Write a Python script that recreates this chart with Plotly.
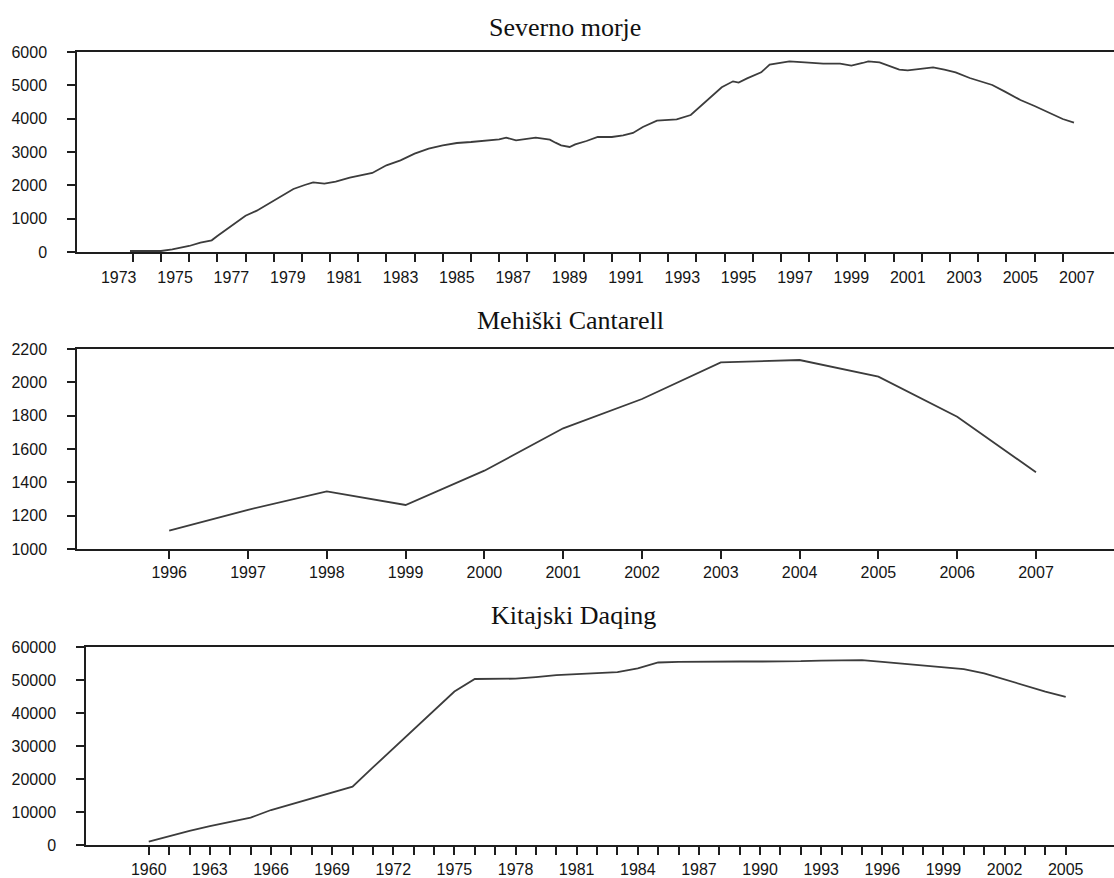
import plotly.graph_objects as go

# ---------------- data ----------------
# North Sea (Severno morje) – x in decimal years (tick marks sit on year boundaries)
ns_x = [1973.9, 1975.0, 1975.4, 1976.0, 1976.4, 1976.8, 1977.0, 1977.4, 1977.8, 1978.0,
        1978.4, 1978.9, 1979.3, 1979.7, 1980.1, 1980.4, 1980.8, 1981.2, 1981.7, 1982.1,
        1982.5, 1983.0, 1983.5, 1984.0, 1984.5, 1985.0, 1985.5, 1986.0, 1986.5, 1987.0,
        1987.25, 1987.6, 1988.3, 1988.8, 1989.0, 1989.2, 1989.5, 1989.7, 1990.1, 1990.5,
        1991.0, 1991.4, 1991.75, 1992.1, 1992.6, 1993.3, 1993.8, 1994.2, 1994.5, 1994.9,
        1995.3, 1995.5, 1995.8, 1996.3, 1996.6, 1997.0, 1997.3, 1997.85, 1998.5, 1999.1,
        1999.5, 1999.9, 2000.1, 2000.5, 2000.9, 2001.2, 2001.5, 2001.9, 2002.4, 2002.8,
        2003.2, 2003.7, 2004.2, 2004.5, 2004.95, 2005.5, 2006.0, 2006.5, 2007.0, 2007.4]
ns_y = [30, 30, 80, 180, 280, 350, 480, 735, 990, 1090,
        1240, 1490, 1690, 1890, 2010, 2090, 2050, 2110, 2230, 2300,
        2370, 2600, 2750, 2950, 3100, 3200, 3270, 3300, 3350, 3380,
        3430, 3350, 3430, 3370, 3280, 3200, 3150, 3230, 3330, 3450,
        3450, 3500, 3570, 3750, 3940, 3980, 4110, 4410, 4660, 4940,
        5120, 5080, 5210, 5390, 5620, 5670, 5720, 5690, 5650, 5650,
        5590, 5670, 5720, 5690, 5570, 5470, 5450, 5500, 5540, 5470,
        5390, 5220, 5080, 5010, 4810, 4560, 4380, 4180, 3990, 3880]
ns_labels = list(range(1973, 2008, 2))
ns_ticks = list(range(1974, 2008))

# Cantarell (Mehiški Cantarell)
ca_years = list(range(1996, 2008))
ca_vals = [1110, 1235, 1346, 1264, 1470, 1724, 1900, 2120, 2134, 2034, 1794, 1460]

# Daqing (Kitajski Daqing)
dq_years = list(range(1960, 2006))
dq_vals = [1000, 2700, 4300, 5700, 7000, 8300, 10600, 12400, 14100, 15900,
           17700, 23500, 29300, 35100, 40900, 46500, 50300, 50300, 50400, 50900,
           51500, 51800, 52000, 52400, 53500, 55300, 55500, 55600, 55700, 55600,
           55600, 55600, 55700, 55900, 56000, 56000, 55500, 55000, 54500, 54000,
           53300, 52000, 50100, 48400, 46500, 44900]
dq_labels = list(range(1960, 2006, 3))

titles = ["Severno morje", "Mehiški Cantarell", "Kitajski Daqing"]

# ---------------- figure ----------------
W, H = 1114, 878
LINE = "#3c3c3c"
AX = "#1e1e1e"
TICKFONT = dict(family="Liberation Sans, Arial, sans-serif", size=16, color="#151515")
TITLEFONT = dict(family="Liberation Serif, Times New Roman, serif", size=26, color="#111")

def px_y(top, bottom):
    return [1 - bottom / H, 1 - top / H]

fig = go.Figure()
fig.add_trace(go.Scatter(x=ns_x, y=ns_y, mode="lines", line=dict(color=LINE, width=1.8),
                         xaxis="x", yaxis="y", showlegend=False))
fig.add_trace(go.Scatter(x=ca_years, y=ca_vals, mode="lines", line=dict(color=LINE, width=1.8),
                         xaxis="x2", yaxis="y2", showlegend=False))
fig.add_trace(go.Scatter(x=dq_years, y=dq_vals, mode="lines", line=dict(color=LINE, width=1.8),
                         xaxis="x3", yaxis="y3", showlegend=False))

common_x = dict(showline=True, linecolor=AX, linewidth=1.5, mirror=True, showgrid=False,
                zeroline=False, tickfont=TICKFONT, fixedrange=True, automargin=False)
common_y = dict(showline=True, linecolor=AX, linewidth=1.5, showgrid=False, zeroline=False,
                ticks="outside", ticklen=8, tickwidth=1.5, tickcolor=AX, tickformat="d",
                tickfont=TICKFONT, ticklabelstandoff=17, fixedrange=True, automargin=False)

fig.update_layout(
    template="none",
    width=W, height=H, margin=dict(l=0, r=0, t=0, b=0, pad=0, autoexpand=False),
    paper_bgcolor="white", plot_bgcolor="white",
    xaxis=dict(domain=[77 / W, 1], anchor="y", range=[1972.02, 2008.82],
               tickmode="array", tickvals=[v + 0.5 for v in ns_labels],
               ticktext=[str(v) for v in ns_labels], ticks="", ticklabelstandoff=10,
               minor=dict(tickmode="array", tickvals=ns_ticks, ticks="outside",
                          ticklen=8, tickwidth=1.5, tickcolor=AX, showgrid=False),
               **common_x),
    yaxis=dict(domain=px_y(52, 252), anchor="x", range=[0, 6000], tickmode="linear",
               tick0=0, dtick=1000, **common_y),
    xaxis2=dict(domain=[77 / W, 1], anchor="y2", range=[1994.83, 2007.99],
                tickmode="array", tickvals=ca_years, ticktext=[str(v) for v in ca_years],
                ticks="outside", ticklen=8, tickwidth=1.5, tickcolor=AX,
                ticklabelstandoff=0, **common_x),
    yaxis2=dict(domain=px_y(349, 549), anchor="x2", range=[1000, 2200], tickmode="linear",
                tick0=1000, dtick=200, **common_y),
    xaxis3=dict(domain=[86 / W, 1], anchor="y3", range=[1956.92, 2007.37],
                tickmode="array", tickvals=dq_labels, ticktext=[str(v) for v in dq_labels],
                ticks="outside", ticklen=8, tickwidth=1.5, tickcolor=AX,
                ticklabelstandoff=1,
                minor=dict(tickmode="array", tickvals=dq_years, ticks="outside",
                           ticklen=8, tickwidth=1.5, tickcolor=AX, showgrid=False),
                **common_x),
    yaxis3=dict(domain=px_y(647, 845), anchor="x3", range=[0, 60000], tickmode="linear",
                tick0=0, dtick=10000, **common_y),
)

title_pos = [(565, 27), (570, 320), (573, 615)]
for t, (cx, cy) in zip(titles, title_pos):
    fig.add_annotation(text=t, x=cx / W, y=1 - cy / H, xref="paper", yref="paper",
                       xanchor="center", yanchor="middle", showarrow=False, font=TITLEFONT)

fig.write_html("out.html", config={"displayModeBar": False},
               post_script="document.body.style.margin='0';document.body.style.overflow='hidden';")
